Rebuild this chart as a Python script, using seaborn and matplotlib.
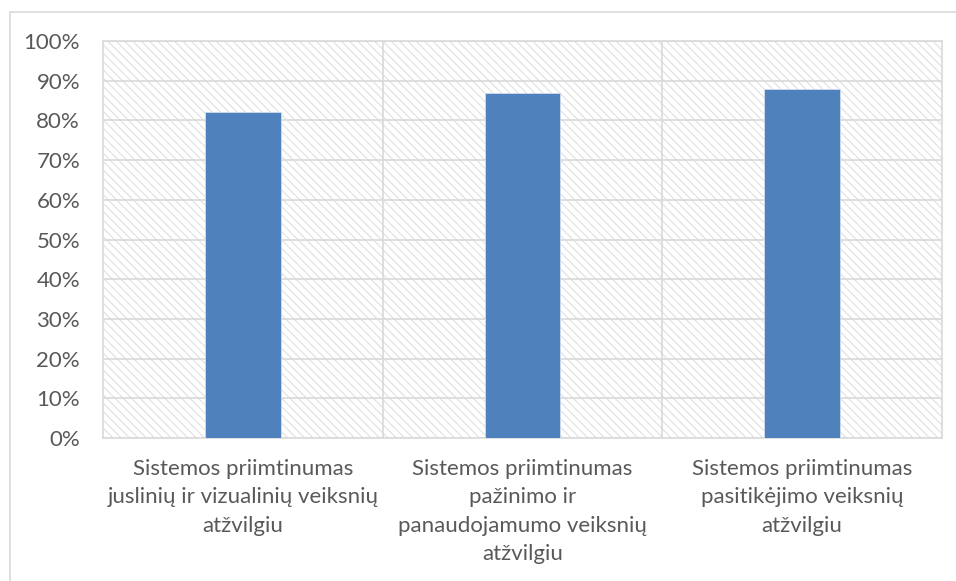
import matplotlib
matplotlib.use("Agg")
import matplotlib.pyplot as plt
import seaborn as sns
import pandas as pd
from matplotlib.patches import Rectangle
from matplotlib.ticker import PercentFormatter

categories = [
    "Sistemos priimtinumas\njuslinių ir vizualinių veiksnių\natžvilgiu",
    "Sistemos priimtinumas\npažinimo ir\npanaudojamumo veiksnių\natžvilgiu",
    "Sistemos priimtinumas\npasitikėjimo veiksnių\natžvilgiu",
]
values = [82, 87, 88]
y_ticks = [0, 10, 20, 30, 40, 50, 60, 70, 80, 90, 100]

sns.set_theme(style="white")
plt.rcParams["font.family"] = ["Lato", "DejaVu Sans"]
plt.rcParams["hatch.linewidth"] = 0.8
plt.rcParams["hatch.color"] = "#e0e0e0"

df = pd.DataFrame({"category": categories, "value": values})

fig = plt.figure(figsize=(9.56, 5.81), dpi=100)
ax = fig.add_axes([103 / 956, 1 - 438 / 581, 839 / 956, 397 / 581])

# outer chart frame
fig.patches.append(Rectangle((10 / 956, -0.05), 1.0, 1 - 12 / 581 + 0.05,
                             transform=fig.transFigure, fill=False,
                             edgecolor="#d9d9d9", linewidth=1.2, zorder=0))

# hatched plot-area background
ax.patch.set_facecolor("white")
bg = Rectangle((0, 0), 1, 1, transform=ax.transAxes, facecolor="white",
               edgecolor="#e0e0e0", hatch="\\\\\\\\", linewidth=0, zorder=0)
ax.add_patch(bg)

sns.barplot(data=df, x="category", y="value", color="#4f81bd", width=0.27,
            saturation=1, ax=ax, zorder=3)
for p in ax.patches:
    if p is not bg:
        p.set_edgecolor("#d0dcec")
        p.set_linewidth(0.6)

ax.set_ylim(0, 100)
ax.set_xlim(-0.5, 2.5)
ax.set_yticks(y_ticks)
ax.yaxis.set_major_formatter(PercentFormatter(decimals=0))

# gridlines: horizontal at each tick, vertical at category boundaries
for y in y_ticks:
    ax.axhline(y, color="#d9d9d9", linewidth=1.2, zorder=1)
for x in [0.5, 1.5]:
    ax.axvline(x, color="#d9d9d9", linewidth=1.2, zorder=1)

for side in ["left", "right", "top", "bottom"]:
    ax.spines[side].set_visible(True)
    ax.spines[side].set_color("#d9d9d9")
    ax.spines[side].set_linewidth(1.2)

ax.set_xlabel("")
ax.set_ylabel("")
ax.tick_params(axis="y", length=0, pad=16.5, labelsize=16, labelcolor="#595959")
ax.tick_params(axis="x", length=0, pad=15, labelsize=16, labelcolor="#595959")
for lbl in ax.get_xticklabels():
    lbl.set_linespacing(1.53)
    lbl.set_horizontalalignment("center")

fig.savefig("out.png", dpi=100)
